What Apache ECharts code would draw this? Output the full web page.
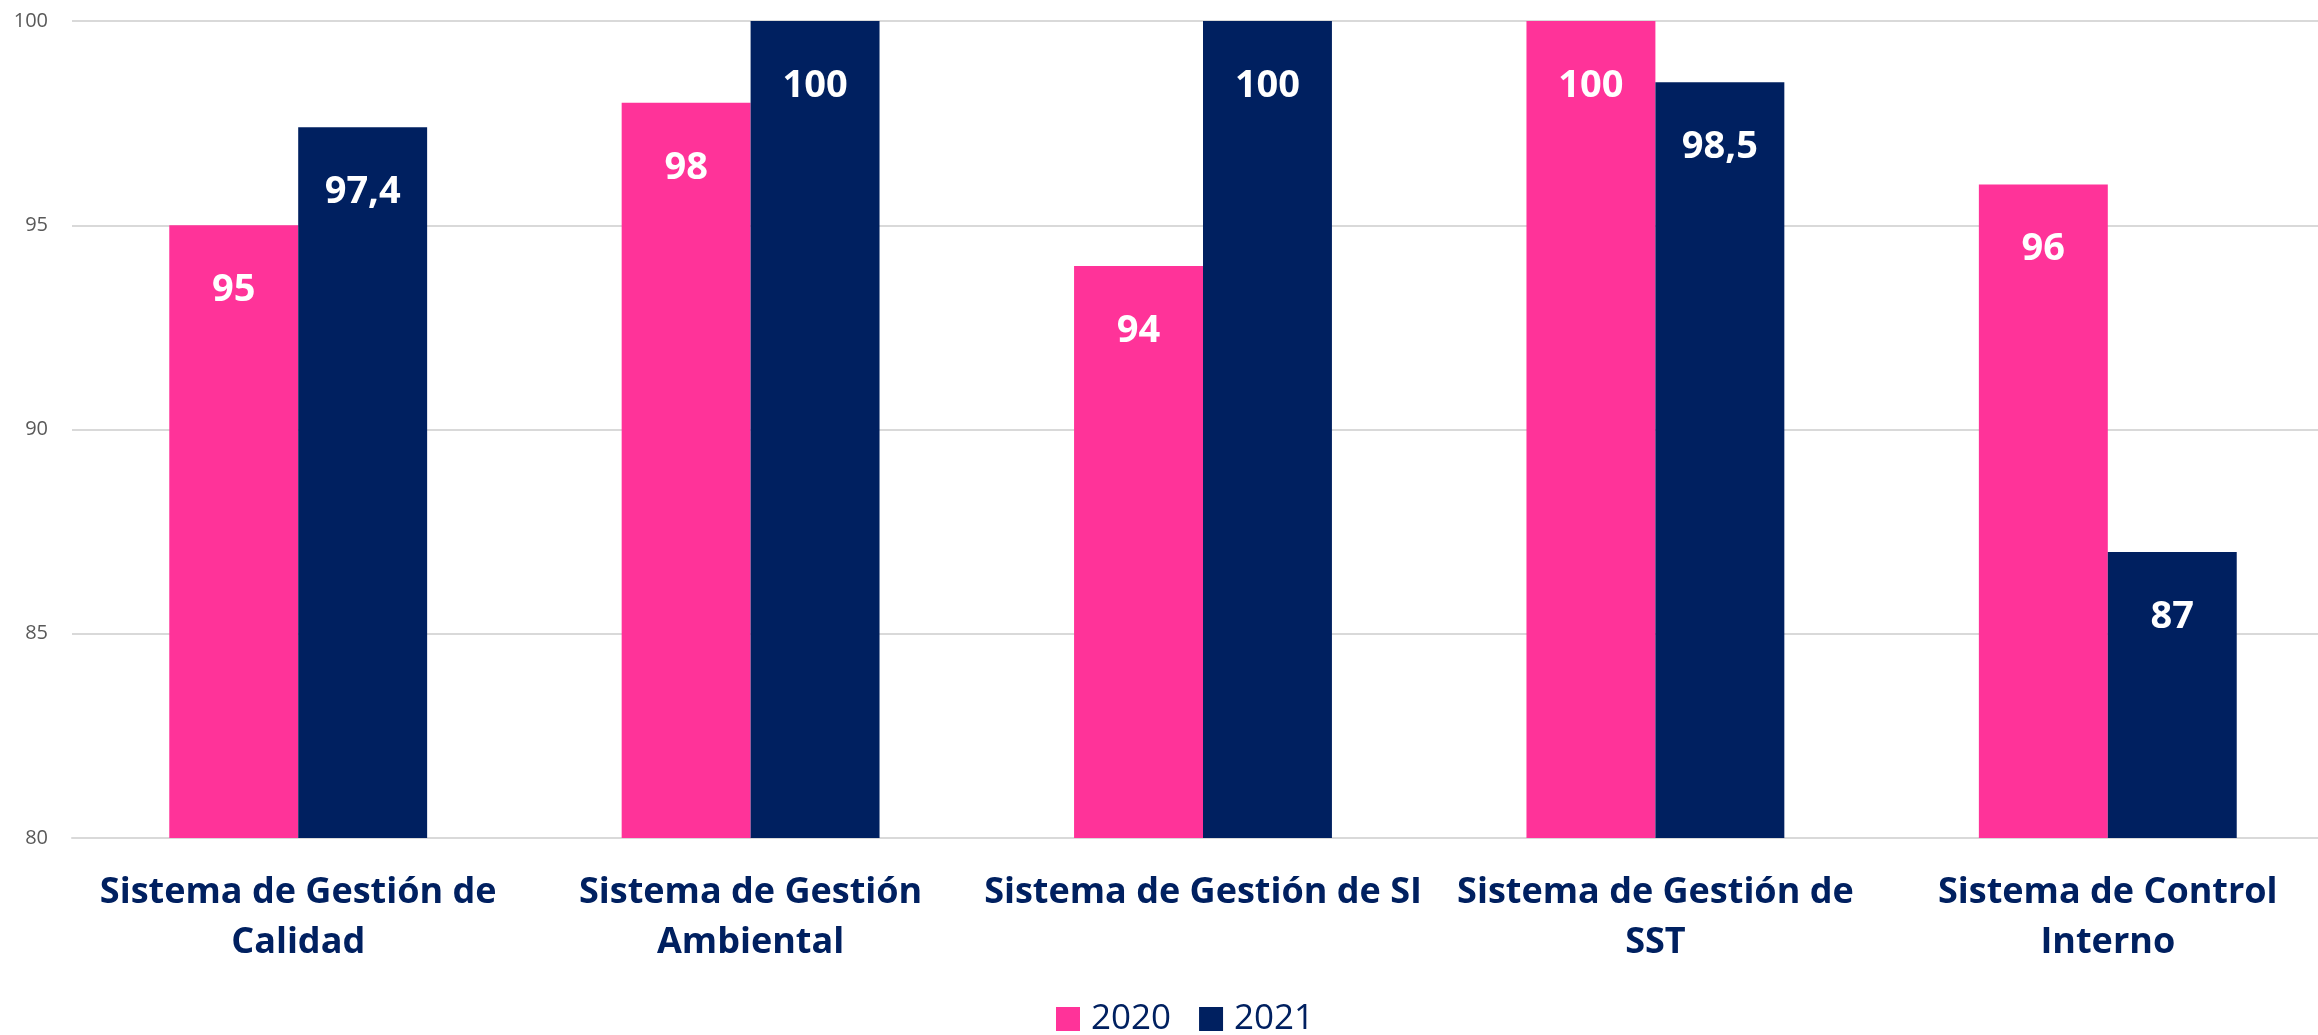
<!DOCTYPE html>
<html>
<head>
<meta charset="utf-8">
<script src="https://cdn.jsdelivr.net/npm/echarts@6/dist/echarts.min.js"></script>
<style>
html,body{margin:0;padding:0;background:#fff;}
#c{width:2318px;height:1035px;}
</style>
</head>
<body>
<div id="c"></div>
<script>
var categories = [
  "Sistema de Gestión de\nCalidad",
  "Sistema de Gestión\nAmbiental",
  "Sistema de Gestión de SI",
  "Sistema de Gestión de\nSST",
  "Sistema de Control\nInterno"
];
var seriesNames = ["2020", "2021"];
var values2020 = [95, 98, 94, 100, 96];
var values2021 = [97.4, 100, 100, 98.5, 87];
var yTicks = [80, 85, 90, 95, 100];

var colors = ["#FF3399", "#002060"];
var chart = echarts.init(document.getElementById('c'), null, {renderer: 'canvas'});

function fmt(p) { return String(p.value).replace('.', ','); }

var labelStyle = {
  show: true,
  position: 'insideTop',
  distance: 46,
  color: '#ffffff',
  fontFamily: 'Open Sans',
  fontWeight: 'bold',
  fontSize: 38,
  formatter: fmt
};

chart.setOption({
  animation: false,
  textStyle: {fontFamily: 'Open Sans'},
  grid: {left: 72, width: 2262, top: 21, bottom: 197, containLabel: false, outerBoundsMode: 'none'},
  legend: {
    data: seriesNames,
    left: 1051,
    top: 996,
    itemWidth: 24,
    itemHeight: 24,
    itemGap: 28,
    icon: 'rect',
    textStyle: {
      fontFamily: 'Open Sans',
      fontSize: 35,
      color: '#002060',
      lineHeight: 36,
      padding: [0, 0, 0, 6]
    }
  },
  xAxis: {
    type: 'category',
    data: categories,
    axisLine: {show: true, lineStyle: {color: '#D9D9D9', width: 2}},
    axisTick: {show: false},
    axisLabel: {
      interval: 0,
      margin: 30,
      color: '#002060',
      fontFamily: 'Open Sans',
      fontWeight: 'bold',
      fontSize: 36,
      lineHeight: 50
    }
  },
  yAxis: {
    type: 'value',
    min: yTicks[0],
    max: yTicks[yTicks.length - 1],
    interval: 5,
    axisLine: {show: false},
    axisTick: {show: false},
    splitLine: {lineStyle: {color: '#D9D9D9', width: 2}},
    axisLabel: {color: '#595959', fontFamily: 'Open Sans', fontSize: 20, margin: 24}
  },
  series: [
    {
      name: seriesNames[0],
      type: 'bar',
      data: values2020,
      itemStyle: {color: colors[0]},
      barGap: '0%',
      barCategoryGap: '43%',
      label: labelStyle
    },
    {
      name: seriesNames[1],
      type: 'bar',
      data: values2021,
      itemStyle: {color: colors[1]},
      barGap: '0%',
      barCategoryGap: '43%',
      label: labelStyle
    }
  ]
});
</script>
</body>
</html>
